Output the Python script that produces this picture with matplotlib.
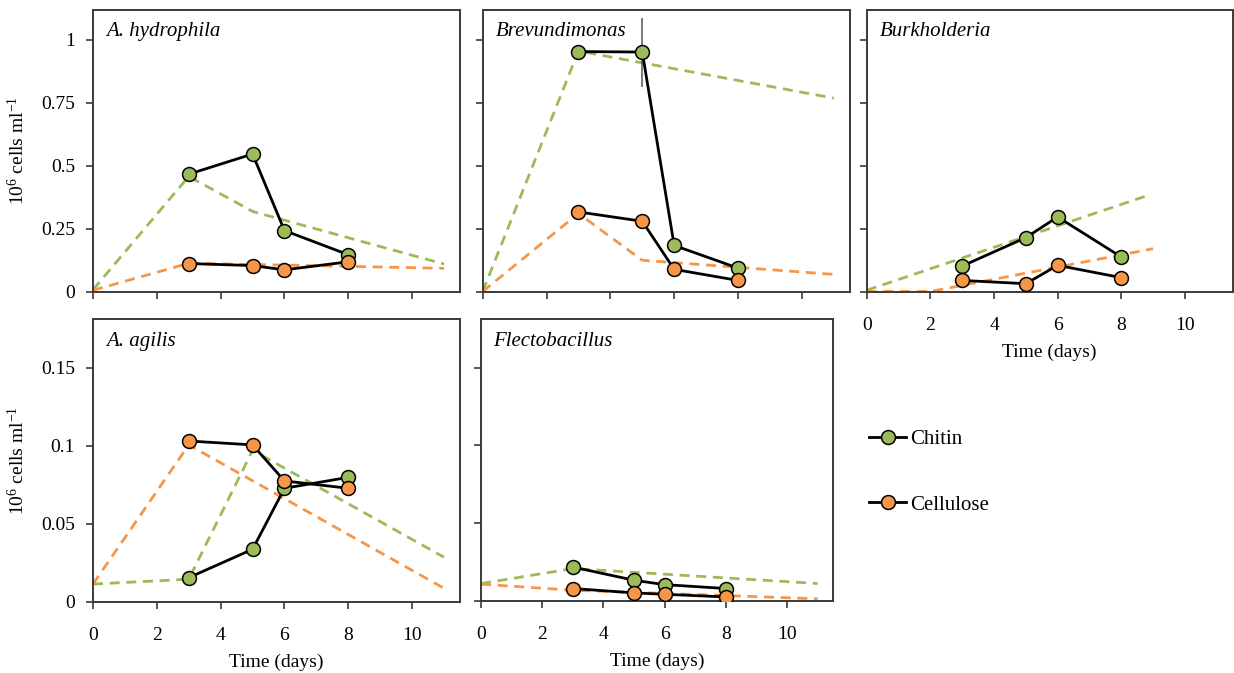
import numpy as np
import matplotlib
matplotlib.use('Agg')
import matplotlib.pyplot as plt
from matplotlib.lines import Line2D

plt.rcParams['font.family'] = 'serif'
plt.rcParams['font.serif'] = ['Liberation Serif', 'DejaVu Serif']
plt.rcParams['mathtext.fontset'] = 'custom'
plt.rcParams['mathtext.rm'] = 'Liberation Serif'
plt.rcParams['mathtext.it'] = 'Liberation Serif:italic'

green = '#9BBB59'
orange = '#F79646'
spine_col = '#3a3a3a'

# observed time points (days)
t_obs = [3, 5, 6, 8]

# A. hydrophila
hyd_chitin = [0.466, 0.546, 0.242, 0.146]
hyd_cell = [0.111, 0.103, 0.086, 0.118]
hyd_fit_t_chitin = [0, 3, 5, 11]
hyd_fit_chitin = [0.007, 0.457, 0.318, 0.109]
hyd_fit_t_cell = [0, 3, 8, 11]
hyd_fit_cell = [0.005, 0.112, 0.100, 0.092]

# Brevundimonas
brev_chitin = [0.953, 0.951, 0.183, 0.093]
brev_chitin_err = [0, 0.137, 0, 0]
brev_cell = [0.316, 0.279, 0.088, 0.044]
brev_fit_t_chitin = [0, 3, 11]
brev_fit_chitin = [0.0, 0.955, 0.768]
brev_fit_t_cell = [0, 3, 5, 11]
brev_fit_cell = [0.0, 0.31, 0.124, 0.068]

# Burkholderia
burk_chitin = [0.101, 0.214, 0.296, 0.137]
burk_cell = [0.044, 0.031, 0.104, 0.055]
burk_fit_t_chitin = [0, 8.75]
burk_fit_chitin = [0.005, 0.378]
burk_fit_t_cell = [0, 2, 9]
burk_fit_cell = [0.0, 0.0, 0.17]

# A. agilis
agi_chitin = [0.0154, 0.0336, 0.0727, 0.0797]
agi_cell = [0.103, 0.1005, 0.0774, 0.0727]
agi_fit_t_chitin = [0, 3, 5, 11]
agi_fit_chitin = [0.0113, 0.0144, 0.097, 0.0285]
agi_fit_t_cell = [0, 3, 11]
agi_fit_cell = [0.0113, 0.1005, 0.0086]

# Flectobacillus
fle_chitin = [0.022, 0.0135, 0.0107, 0.0082]
fle_cell = [0.0082, 0.0054, 0.0045, 0.0028]
fle_fit_t_chitin = [0, 3, 11]
fle_fit_chitin = [0.0114, 0.021, 0.0114]
fle_fit_t_cell = [0, 3, 11]
fle_fit_cell = [0.011, 0.0071, 0.0016]

W, H = 1234, 673
fig = plt.figure(figsize=(W / 100, H / 100), dpi=100)


def make_ax(l, t, w, h):
    return fig.add_axes([l / W, 1 - (t + h) / H, w / W, h / H])


def style(ax, ylim, yticks, ylabels, xlabels, title):
    ax.set_xlim(0, 11.5)
    ax.set_ylim(*ylim)
    ax.set_xticks(range(0, 11, 2))
    ax.set_yticks(yticks)
    if xlabels:
        ax.set_xticklabels([str(v) for v in range(0, 11, 2)])
        ax.set_xlabel('Time (days)', fontsize=14, labelpad=7)
    else:
        ax.set_xticklabels([])
    if ylabels is None:
        ax.set_yticklabels([])
    else:
        ax.set_yticklabels(ylabels)
        ax.set_ylabel('10$^{6}$ cells ml$^{\\mathregular{-1}}$', fontsize=14)
        ax.yaxis.set_label_coords(-0.177, 0.5)
    ax.tick_params(direction='out', length=5, width=1.2, labelsize=14,
                   color=spine_col, top=False, right=False)
    ax.tick_params(axis='x', pad=13)
    ax.tick_params(axis='y', pad=8)
    for s in ax.spines.values():
        s.set_color(spine_col)
        s.set_linewidth(1.4)
    ax.text(0.035, 0.955, title, transform=ax.transAxes, fontsize=15,
            style='italic', va='top', ha='left')


def draw(ax, chitin, cell, ft_ch, f_ch, ft_ce, f_ce, err=None):
    ax.plot(ft_ch, f_ch, '--', color=green, lw=2, dashes=(3.6, 2.4), zorder=1)
    ax.plot(ft_ce, f_ce, '--', color=orange, lw=2, dashes=(3.6, 2.4), zorder=1)
    if err is not None:
        ax.errorbar(t_obs, chitin, yerr=err, fmt='none', ecolor='#555555',
                    elinewidth=1.1, capsize=0, zorder=2)
    ax.plot(t_obs, chitin, '-o', color='black', lw=2, mfc=green, mec='black',
            mew=1.1, ms=10, zorder=3)
    ax.plot(t_obs, cell, '-o', color='black', lw=2, mfc=orange, mec='black',
            mew=1.1, ms=10, zorder=3)


big_ticks = [0, 0.25, 0.5, 0.75, 1]
big_labels = ['0', '0.25', '0.5', '0.75', '1']
small_ticks = [0, 0.05, 0.1, 0.15]
small_labels = ['0', '0.05', '0.1', '0.15']

ax1 = make_ax(93, 9.5, 367, 282)
draw(ax1, hyd_chitin, hyd_cell, hyd_fit_t_chitin, hyd_fit_chitin,
     hyd_fit_t_cell, hyd_fit_cell)
style(ax1, (0, 1.12), big_ticks, big_labels, False, 'A. hydrophila')

ax2 = make_ax(482.7, 9.5, 367, 282)
draw(ax2, brev_chitin, brev_cell, brev_fit_t_chitin, brev_fit_chitin,
     brev_fit_t_cell, brev_fit_cell, err=brev_chitin_err)
style(ax2, (0, 1.12), big_ticks, None, False, 'Brevundimonas')

ax3 = make_ax(866.7, 9.5, 366, 282)
draw(ax3, burk_chitin, burk_cell, burk_fit_t_chitin, burk_fit_chitin,
     burk_fit_t_cell, burk_fit_cell)
style(ax3, (0, 1.12), big_ticks, None, True, 'Burkholderia')

ax4 = make_ax(93, 319.3, 367, 282.4)
draw(ax4, agi_chitin, agi_cell, agi_fit_t_chitin, agi_fit_chitin,
     agi_fit_t_cell, agi_fit_cell)
style(ax4, (0, 0.181), small_ticks, small_labels, True, 'A. agilis')

ax5 = make_ax(481, 319.3, 352, 282)
draw(ax5, fle_chitin, fle_cell, fle_fit_t_chitin, fle_fit_chitin,
     fle_fit_t_cell, fle_fit_cell)
style(ax5, (0, 0.181), small_ticks, None, True, 'Flectobacillus')

handles = [
    Line2D([], [], color='black', lw=2, marker='o', mfc=green, mec='black',
           mew=1.1, ms=10),
    Line2D([], [], color='black', lw=2, marker='o', mfc=orange, mec='black',
           mew=1.1, ms=10),
]
fig.legend(handles, ['Chitin', 'Cellulose'], loc='upper left',
           bbox_to_anchor=(850 / W, 1 - 411 / H), frameon=False, fontsize=15,
           handlelength=1.8, handletextpad=0.2, labelspacing=2.2)

fig.savefig('out.png', dpi=100)
